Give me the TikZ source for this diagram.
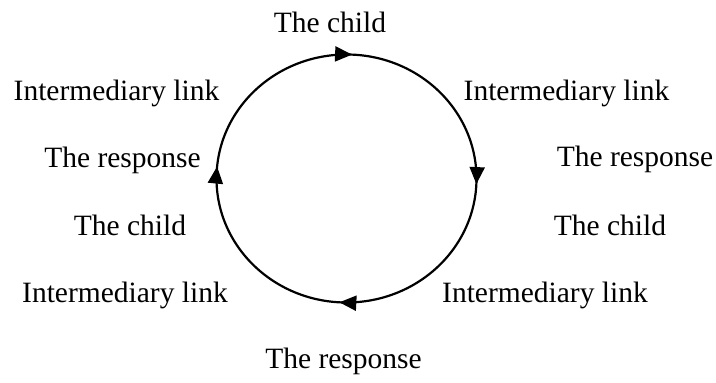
\documentclass[tikz,border=0pt]{standalone}
\usepackage{fontspec}
\setmainfont{Liberation Serif}
\usetikzlibrary{arrows.meta,decorations.markings}

\begin{document}
\begin{tikzpicture}[x=1pt,y=-1pt,
        lbl/.style={anchor=base,inner sep=0pt,font=\fontsize{29.5}{34}\selectfont},
        cyclearrows/.style={postaction={decorate},decoration={markings,
            mark=at position 0.007 with {\arrow{Triangle[length=17pt,width=15pt]}},
            mark=at position 0.259 with {\arrow{Triangle[length=17pt,width=15pt]}},
            mark=at position 0.515 with {\arrow{Triangle[length=17pt,width=15pt]}},
            mark=at position 0.757 with {\arrow{Triangle[length=17pt,width=15pt]}}}}]
            \useasboundingbox (0,0) rectangle (716,383);
            % Cycle
            \coordinate (centre) at (346.5,178.5);
            \draw[line width=2.2pt,cyclearrows] (centre) ellipse [x radius=130,y radius=124];
            % Top and bottom
            \node[lbl] (childtop) at (330,32) {The child};
            \node[lbl] (responsebottom) at (343.5,368) {The response};
            % Left side
            \node[lbl] (linkleftup) at (116.5,100) {Intermediary link};
            \node[lbl] (responseleft) at (122.5,167) {The response};
            \node[lbl] (childleft) at (130,235) {The child};
            \node[lbl] (linkleftdown) at (125,302) {Intermediary link};
            % Right side
            \node[lbl] (linkrightup) at (566.5,100) {Intermediary link};
            \node[lbl] (responseright) at (635,166) {The response};
            \node[lbl] (childright) at (610,235) {The child};
            \node[lbl] (linkrightdown) at (545,302) {Intermediary link};
\end{tikzpicture}
\end{document}
